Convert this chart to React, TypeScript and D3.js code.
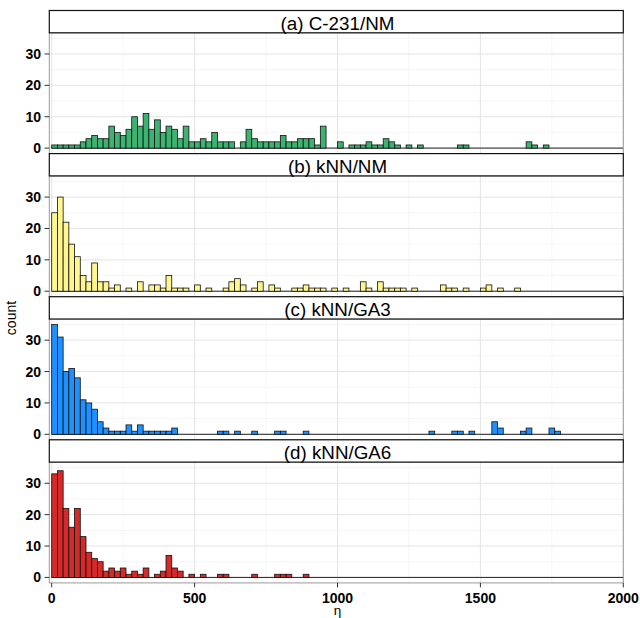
import React from "react";
import * as d3 from "d3";

const BIN_WIDTH = 20;
const panelTitles = ["(a) C-231/NM", "(b) kNN/NM", "(c) kNN/GA3", "(d) kNN/GA6"];
const panelColors = ["#3cb371", "#fff68f", "#1e90ff", "#d42a2a"];

const countsA = [1,1,1,1,1,2,3,4,3,3,7,5,4,6,10,7,11,6,9,5,7,6,3,7,2,2,3,2,5,2,2,2,0,2,6,3,2,2,2,2,4,2,2,3,3,3,1,7,
  0,0,2,0,1,1,1,2,1,1,3,2,1,0,1,0,1,0,0,0,0,0,0,1,1,0,0,0,0,0,0,0,0,0,0,2,1,0,1];
const countsB = [25,30,22,15,11,5,3,9,3,3,1,2,0,1,0,3,0,2,2,1,5,1,1,1,0,2,0,1,0,0,1,3,4,2,0,1,3,0,2,1,0,0,1,1,2,1,1,1,
  0,1,0,1,0,0,3,1,0,3,1,1,1,1,0,1,0,0,0,0,2,1,1,0,1,0,0,1,2,0,1,0,0,1];
const countsC = [35,31,20,21,18,11,10,8,4,2,1,1,1,3,1,3,1,1,1,1,1,2,0,0,0,0,0,0,0,1,1,0,1,0,0,1,0,0,0,1,1,0,0,0,1,
  0,0,0,0,0,0,0,0,0,0,0,0,0,0,0,0,0,0,0,0,0,1,0,0,0,1,1,0,1,0,0,0,4,2,0,0,0,1,2,0,0,0,2,1];
const countsD = [33,34,22,16,22,13,8,6,5,2,3,2,3,1,2,1,3,0,1,2,7,3,2,0,1,0,1,0,0,1,1,0,0,0,0,1,0,0,0,1,1,1,0,0,1];
const allCounts = [countsA, countsB, countsC, countsD];

const xMajor = [0, 500, 1000, 1500, 2000];
const xMinor = [250, 750, 1250, 1750];
const yMajor = [0, 10, 20, 30];
const yMinor = [5, 15, 25, 35];

export default function App() {
  const W = 640, H = 618;
  const left = 49.3, right = 623.3;
  const x = d3.scaleLinear().domain([0, 2000]).range([51.7, 623.3]);
  const top0 = 10.5, facetH = 143.1, stripH = 22.3, panelH = 120.8;
  const font = "Liberation Sans, Arial, sans-serif";

  return (
    <svg width={W} height={H} style={{ position: "absolute", left: 0, top: 0 }} fontFamily={font}>
      <rect width={W} height={H} fill="#fff" />
      {allCounts.map((counts, k) => {
        const sTop = top0 + facetH * k;
        const pTop = sTop + stripH;
        const pBot = pTop + panelH;
        const y = d3.scaleLinear().domain([-1.75, 36.75]).range([pBot, pTop]);
        return (
          <g key={k}>
            <rect x={left} y={pTop} width={right - left} height={panelH} fill="#fff" />
            {yMinor.map((v) => (
              <line key={"ym" + v} x1={left} x2={right} y1={y(v)} y2={y(v)} stroke="#f3f3f3" strokeWidth={0.8} />
            ))}
            {xMinor.map((v) => (
              <line key={"xm" + v} x1={x(v)} x2={x(v)} y1={pTop} y2={pBot} stroke="#f3f3f3" strokeWidth={0.8} />
            ))}
            {yMajor.map((v) => (
              <line key={"yM" + v} x1={left} x2={right} y1={y(v)} y2={y(v)} stroke="#e4e4e4" strokeWidth={1} />
            ))}
            {xMajor.map((v) => (
              <line key={"xM" + v} x1={x(v)} x2={x(v)} y1={pTop} y2={pBot} stroke="#e4e4e4" strokeWidth={1} />
            ))}
            <line x1={x(0)} x2={x(2000)} y1={y(0)} y2={y(0)} stroke="#222" strokeWidth={1} />
            {counts.map((c, i) =>
              c > 0 ? (
                <rect
                  key={i}
                  x={x(i * BIN_WIDTH)}
                  y={y(c)}
                  width={x((i + 1) * BIN_WIDTH) - x(i * BIN_WIDTH)}
                  height={y(0) - y(c)}
                  fill={panelColors[k]}
                  stroke="#111"
                  strokeWidth={0.8}
                />
              ) : null
            )}
            <rect x={left} y={pTop} width={right - left} height={panelH} fill="none" stroke="#9a9a9a" strokeWidth={1} />
            {yMajor.map((v) => (
              <g key={"yt" + v}>
                <line x1={44.5} x2={left} y1={y(v)} y2={y(v)} stroke="#333" strokeWidth={1} />
                <text x={41} y={y(v)} dy="0.36em" textAnchor="end" fontSize={14} fontWeight="bold" fill="#000">
                  {v}
                </text>
              </g>
            ))}
            <rect x={left} y={sTop} width={right - left} height={stripH} fill="#fff" stroke="#111" strokeWidth={1.2} />
            <text x={x(1000)} y={sTop + 19.5} textAnchor="middle" fontSize={18.8} fill="#000">
              {panelTitles[k]}
            </text>
            {k === 3 &&
              xMajor.map((v) => (
                <g key={"xt" + v}>
                  <line x1={x(v)} x2={x(v)} y1={pBot} y2={pBot + 4.5} stroke="#333" strokeWidth={1} />
                  <text x={x(v)} y={602.7} textAnchor="middle" fontSize={14} fontWeight="bold" fill="#000">
                    {v}
                  </text>
                </g>
              ))}
          </g>
        );
      })}
      <text transform="translate(16,318) rotate(-90)" textAnchor="middle" fontSize={14} fill="#000">
        count
      </text>
      <text x={337.5} y={614.5} textAnchor="middle" fontSize={13.5} fill="#000">
        η
      </text>
    </svg>
  );
}
